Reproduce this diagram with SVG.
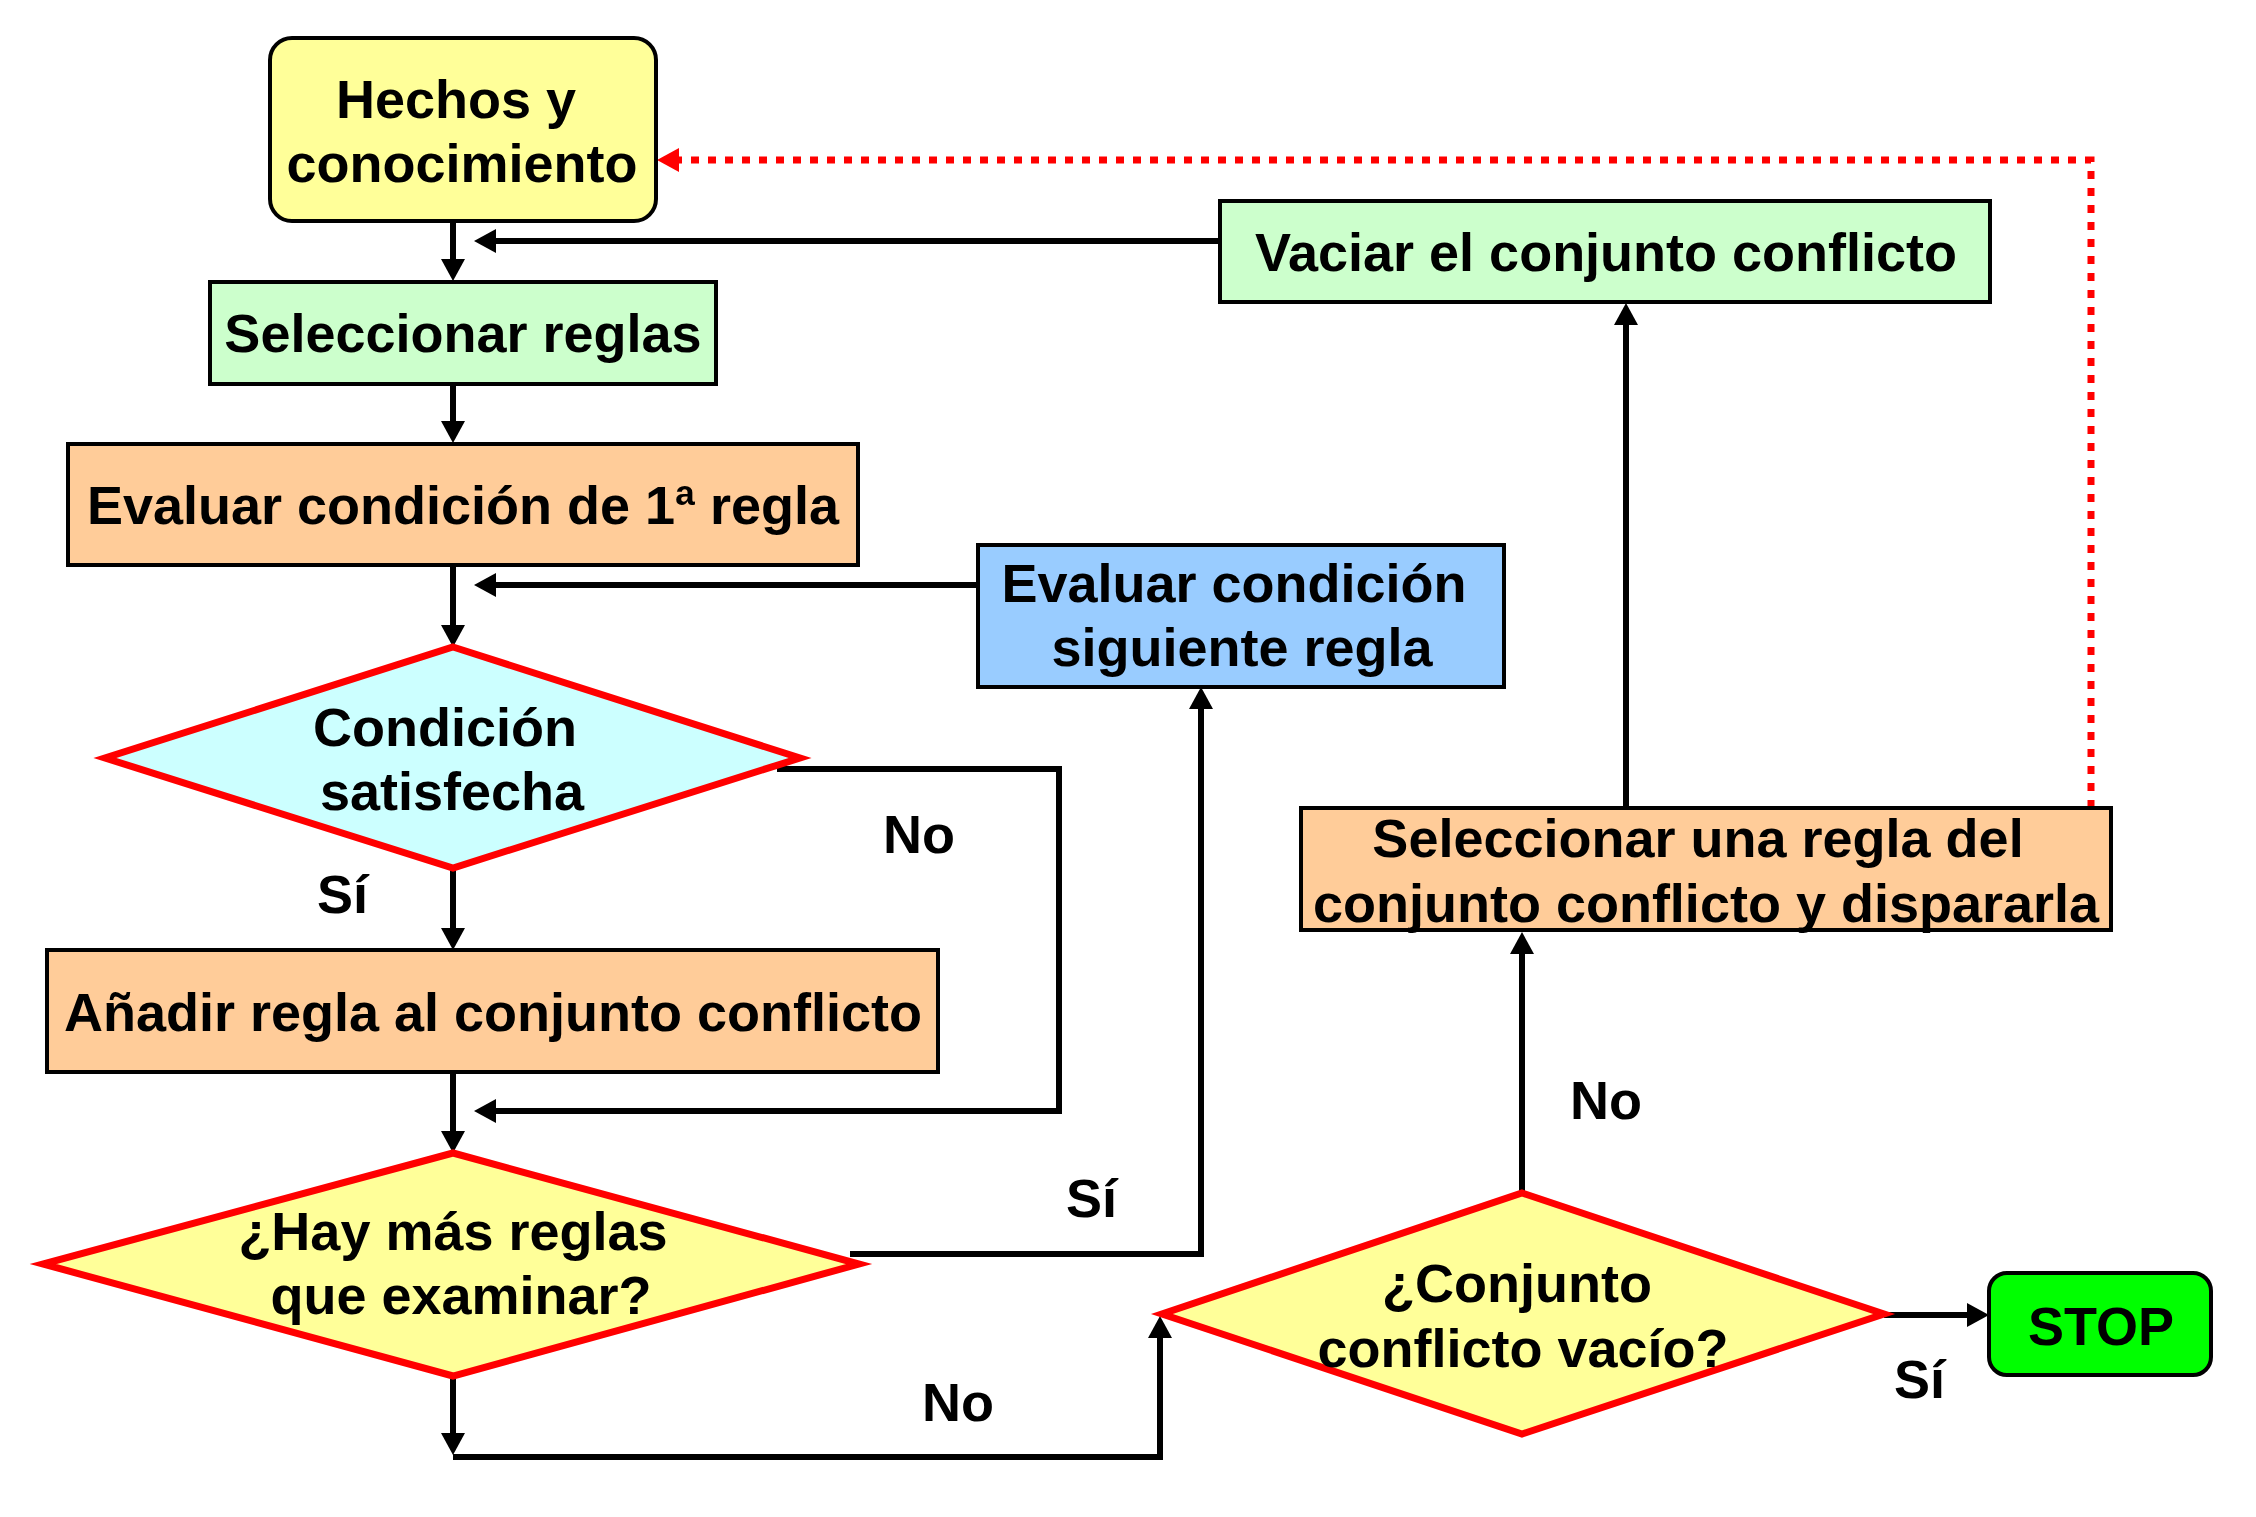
<svg xmlns="http://www.w3.org/2000/svg" width="2256" height="1517" viewBox="0 0 2256 1517">
<style>
  .box { stroke: #000; stroke-width: 4; }
  .dia { stroke: #FF0000; stroke-width: 7; stroke-linejoin: miter; }
  .t { font-family: "Liberation Sans", Arial, sans-serif; font-weight: bold; font-size: 54px; fill: #000; }
  .c { text-anchor: middle; }
  .conn { fill: none; stroke: #000; stroke-width: 6; stroke-linejoin: miter; stroke-linecap: butt; }
  .dot { fill: none; stroke: #FF0000; stroke-width: 7; stroke-dasharray: 8 9; }
</style>
<defs>
  <marker id="ah" markerUnits="userSpaceOnUse" markerWidth="24" markerHeight="26" refX="12" refY="12" orient="auto">
    <path d="M0,0 L22,12 L0,24 z" fill="#000"/>
  </marker>
  <marker id="ahr" markerUnits="userSpaceOnUse" markerWidth="24" markerHeight="26" refX="12" refY="12" orient="auto">
    <path d="M0,0 L22,12 L0,24 z" fill="#FF0000"/>
  </marker>
</defs>
<rect width="2256" height="1517" fill="#FFFFFF"/>

<g id="connectors">
  <path class="conn" d="M453,221 L453,271" marker-end="url(#ah)"/>
  <path class="conn" d="M1220,241 L484,241" marker-end="url(#ah)"/>
  <path class="conn" d="M453,384 L453,433" marker-end="url(#ah)"/>
  <path class="conn" d="M453,566 L453,637" marker-end="url(#ah)"/>
  <path class="conn" d="M978,585 L484,585" marker-end="url(#ah)"/>
  <path class="conn" d="M453,868 L453,940" marker-end="url(#ah)"/>
  <path class="conn" d="M777,769 L1059,769 L1059,1111 L484,1111" marker-end="url(#ah)"/>
  <path class="conn" d="M453,1072 L453,1143" marker-end="url(#ah)"/>
  <path class="conn" d="M850,1254 L1201,1254 L1201,697" marker-end="url(#ah)"/>
  <path class="conn" d="M453,1376 L453,1445" marker-end="url(#ah)"/>
  <path class="conn" d="M453,1457 L1160,1457 L1160,1326" marker-end="url(#ah)"/>
  <path class="conn" d="M1522,1193 L1522,942" marker-end="url(#ah)"/>
  <path class="conn" d="M1626,808 L1626,313" marker-end="url(#ah)"/>
  <path class="conn" d="M1884,1315 L1979,1315" marker-end="url(#ah)"/>
  <path class="dot" d="M2091,808 L2091,160 L667,160" marker-end="url(#ahr)"/>
</g>

<g id="hechos">
  <rect class="box" x="270" y="38" width="386" height="183" rx="22" fill="#FFFF99"/>
  <text class="t c" x="456" y="118">Hechos y</text>
  <text class="t c" x="462" y="182">conocimiento</text>
</g>

<g id="seleccionar-reglas">
  <rect class="box" x="210" y="282" width="506" height="102" fill="#CCFFCC"/>
  <text class="t c" x="463" y="352">Seleccionar reglas</text>
</g>

<g id="evaluar-primera">
  <rect class="box" x="68" y="444" width="790" height="121" fill="#FFCC99"/>
  <text class="t c" x="463" y="524">Evaluar condición de 1ª regla</text>
</g>

<g id="vaciar">
  <rect class="box" x="1220" y="201" width="770" height="101" fill="#CCFFCC"/>
  <text class="t c" x="1606" y="271">Vaciar el conjunto conflicto</text>
</g>

<g id="evaluar-siguiente">
  <rect class="box" x="978" y="545" width="526" height="142" fill="#99CCFF"/>
  <text class="t c" x="1234" y="602">Evaluar condición</text>
  <text class="t c" x="1242" y="666">siguiente regla</text>
</g>

<g id="condicion">
  <polygon class="dia" points="453,647 800,758 453,868 105,758" fill="#CCFFFF"/>
  <text class="t c" x="445" y="746">Condición</text>
  <text class="t c" x="452" y="810">satisfecha</text>
</g>

<g id="anadir">
  <rect class="box" x="47" y="950" width="891" height="122" fill="#FFCC99"/>
  <text class="t c" x="493" y="1031">Añadir regla al conjunto conflicto</text>
</g>

<g id="hay-mas">
  <polygon class="dia" points="453,1153 859,1264 453,1376 43,1264" fill="#FFFF99"/>
  <text class="t c" x="453" y="1250">¿Hay más reglas</text>
  <text class="t c" x="461" y="1314">que examinar?</text>
</g>

<g id="conjunto-vacio">
  <polygon class="dia" points="1522,1193 1884,1314 1522,1434 1162,1314" fill="#FFFF99"/>
  <text class="t c" x="1517" y="1302">¿Conjunto</text>
  <text class="t c" x="1523" y="1367">conflicto vacío?</text>
</g>

<g id="seleccionar-una">
  <rect class="box" x="1301" y="808" width="810" height="122" fill="#FFCC99"/>
  <text class="t c" x="1698" y="857">Seleccionar una regla del</text>
  <text class="t c" x="1706" y="922">conjunto conflicto y dispararla</text>
</g>

<g id="stop">
  <rect class="box" x="1989" y="1273" width="222" height="102" rx="18" fill="#00FF00"/>
  <text class="t c" x="2101" y="1345">STOP</text>
</g>

<g id="labels">
  <text class="t" x="317" y="913">Sí</text>
  <text class="t" x="883" y="853">No</text>
  <text class="t" x="1066" y="1217">Sí</text>
  <text class="t" x="922" y="1421">No</text>
  <text class="t" x="1570" y="1119">No</text>
  <text class="t" x="1894" y="1398">Sí</text>
</g>
</svg>
